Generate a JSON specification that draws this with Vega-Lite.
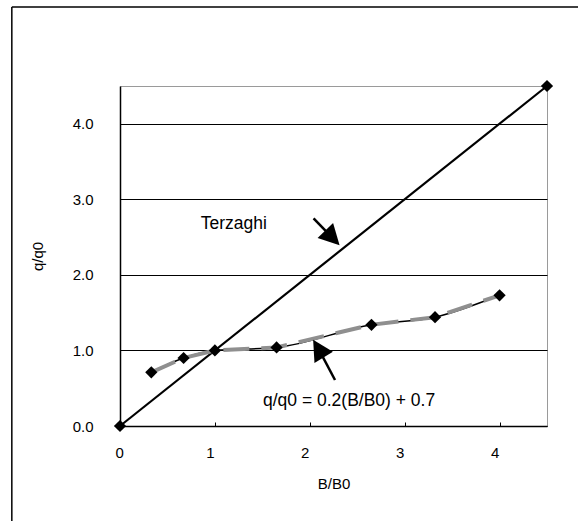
{
  "$schema": "https://vega.github.io/schema/vega-lite/v6.json",
  "width": 427,
  "height": 340,
  "autosize": {"type": "none"},
  "padding": {"left": 120, "top": 86, "right": 31, "bottom": 95},
  "background": "white",
  "config": {
    "font": "Liberation Sans",
    "view": {"stroke": "#9a9a9a", "strokeWidth": 1},
    "axis": {
      "labelColor": "black",
      "titleColor": "black",
      "labelFontSize": 15,
      "titleFontSize": 15,
      "titleFontWeight": "normal",
      "domainColor": "black",
      "domainWidth": 1.5,
      "tickColor": "black"
    }
  },
  "datasets": {
    "tests": [
      {"b": 0.33, "q": 0.71},
      {"b": 0.67, "q": 0.9},
      {"b": 1.0, "q": 1.0},
      {"b": 1.65, "q": 1.04},
      {"b": 2.65, "q": 1.34},
      {"b": 3.32, "q": 1.44},
      {"b": 4.0, "q": 1.73}
    ],
    "terzaghi": [
      {"b": 0, "q": 0},
      {"b": 4.5, "q": 4.5}
    ],
    "arrows": [
      {"label": "Terzaghi", "tail_b": 2.04, "tail_q": 2.749, "head_b": 2.239, "head_q": 2.491},
      {"label": "fit", "tail_b": 2.266, "tail_q": 0.609, "head_b": 2.091, "head_q": 1.024}
    ],
    "notes": [
      {"b": 0.85, "q": 2.603, "text": "Terzaghi"},
      {"b": 1.507, "q": 0.265, "text": "q/q0 = 0.2(B/B0) + 0.7"}
    ],
    "frame": [{"side": "page"}]
  },
  "layer": [
    {
      "data": {"name": "terzaghi"},
      "mark": {
        "type": "line",
        "color": "black",
        "strokeWidth": 2.2,
        "clip": false,
        "point": {"shape": "diamond", "size": 150, "filled": true, "color": "black", "opacity": 1}
      },
      "encoding": {
        "x": {
          "field": "b",
          "type": "quantitative",
          "title": "B/B0",
          "scale": {"domain": [0, 4.5], "nice": false, "zero": false},
          "axis": {
            "title": "B/B0",
            "values": [0, 1, 2, 3, 4],
            "format": "d",
            "grid": false,
            "tickSize": -4,
            "labelPadding": 23,
            "labelOffset": -5,
            "titlePadding": 16
          }
        },
        "y": {
          "field": "q",
          "type": "quantitative",
          "title": "q/q0",
          "scale": {"domain": [0, 4.5], "nice": false, "zero": false},
          "axis": {
            "title": "q/q0",
            "values": [0, 1, 2, 3, 4],
            "format": ".1f",
            "grid": true,
            "gridColor": "black",
            "gridWidth": 1,
            "gridOpacity": 1,
            "ticks": false,
            "labelPadding": 27,
            "titlePadding": 27
          }
        }
      }
    },
    {
      "data": {"name": "frame"},
      "mark": {"type": "rule", "color": "black", "strokeWidth": 1.5, "clip": false},
      "encoding": {
        "x": {"datum": -1.14, "type": "quantitative", "title": "B/B0"},
        "x2": {"datum": 4.95},
        "y": {"datum": 5.545, "type": "quantitative", "title": "q/q0"}
      }
    },
    {
      "data": {"name": "frame"},
      "mark": {"type": "rule", "color": "black", "strokeWidth": 1.5, "clip": false},
      "encoding": {
        "x": {"datum": -1.14, "type": "quantitative", "title": "B/B0"},
        "y": {"datum": -1.4, "type": "quantitative", "title": "q/q0"},
        "y2": {"datum": 5.545}
      }
    },
    {
      "data": {"name": "tests"},
      "mark": {"type": "line", "color": "black", "strokeWidth": 1.5, "interpolate": "monotone"},
      "encoding": {
        "x": {"field": "b", "type": "quantitative", "title": "B/B0"},
        "y": {"field": "q", "type": "quantitative", "title": "q/q0"}
      }
    },
    {
      "data": {"name": "tests"},
      "mark": {"type": "line", "color": "#8f8f8f", "strokeWidth": 4, "strokeDash": [26, 12]},
      "encoding": {
        "x": {"field": "b", "type": "quantitative", "title": "B/B0"},
        "y": {"field": "q", "type": "quantitative", "title": "q/q0"}
      }
    },
    {
      "data": {"name": "tests"},
      "mark": {"type": "point", "shape": "diamond", "size": 150, "filled": true, "color": "black", "opacity": 1},
      "encoding": {
        "x": {"field": "b", "type": "quantitative", "title": "B/B0"},
        "y": {"field": "q", "type": "quantitative", "title": "q/q0"}
      }
    },
    {
      "data": {"name": "arrows"},
      "mark": {"type": "rule", "color": "black", "strokeWidth": 2.5},
      "encoding": {
        "x": {"field": "tail_b", "type": "quantitative", "title": "B/B0"},
        "y": {"field": "tail_q", "type": "quantitative", "title": "q/q0"},
        "x2": {"field": "head_b"},
        "y2": {"field": "head_q"}
      }
    },
    {
      "data": {"name": "arrows"},
      "transform": [{"filter": "datum.label == 'Terzaghi'"}],
      "mark": {"type": "point", "shape": "M0,-1L-1.05,1L1.05,1Z", "size": 420, "angle": 136, "filled": true, "color": "black", "opacity": 1},
      "encoding": {
        "x": {"field": "head_b", "type": "quantitative", "title": "B/B0"},
        "y": {"field": "head_q", "type": "quantitative", "title": "q/q0"}
      }
    },
    {
      "data": {"name": "arrows"},
      "transform": [{"filter": "datum.label == 'fit'"}],
      "mark": {"type": "point", "shape": "M0,-1L-1.05,1L1.05,1Z", "size": 420, "angle": 329, "filled": true, "color": "black", "opacity": 1},
      "encoding": {
        "x": {"field": "head_b", "type": "quantitative", "title": "B/B0"},
        "y": {"field": "head_q", "type": "quantitative", "title": "q/q0"}
      }
    },
    {
      "data": {"name": "notes"},
      "mark": {"type": "text", "align": "left", "baseline": "alphabetic", "fontSize": 17.5, "color": "black"},
      "encoding": {
        "x": {"field": "b", "type": "quantitative", "title": "B/B0"},
        "y": {"field": "q", "type": "quantitative", "title": "q/q0"},
        "text": {"field": "text", "type": "nominal"}
      }
    }
  ]
}
